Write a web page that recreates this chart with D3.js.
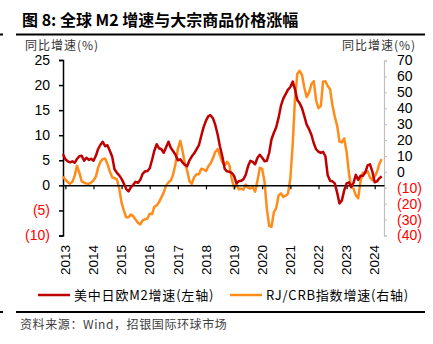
<!DOCTYPE html>
<html>
<head>
	<meta charset="utf-8" />
	<title>全球M2增速与大宗商品价格涨幅</title>
	<script src="https://d3js.org/d3.v7.min.js"></script>
	<style>
		body { margin: 0; background: #fff; }
		text { font-family: "Liberation Sans", Arial, sans-serif; }
		.cjk { font-family: "Noto Sans CJK SC", sans-serif; }
	</style>
</head>
<body>

<script>

// monthly, starting Dec 2012
var startMonth = new Date(2012, 11, 1);

var years = [2013, 2014, 2015, 2016, 2017, 2018, 2019, 2020, 2021, 2022, 2023, 2024];
var leftTicks = [-10, -5, 0, 5, 10, 15, 20, 25];
var rightTicks = [-40, -30, -20, -10, 0, 10, 20, 30, 40, 50, 60, 70];

// 美中日欧M2增速 (left axis, %)
var m2Growth = [
	6.2,
	5.2, 4.8, 4.6, 4.8, 4.5, 5.3, 5.8, 5.9, 4.9, 5.5, 5.1, 5.3,
	4.9, 5.9, 7.2, 8.1, 8.7, 7.8, 8.0, 6.9, 5.7, 3.2, 2.5, 2.0,
	1.3, 0.3, -0.7, -1.2, -0.4, 0.1, 0.7, 0.5, 1.1, 2.3, 2.8, 2.8,
	3.4, 5.1, 6.9, 8.2, 7.4, 7.2, 6.5, 7.6, 8.7, 7.5, 6.8, 6.1,
	5.0, 5.2, 4.6, 4.1, 3.8, 5.0, 5.8, 6.4, 7.2, 8.0, 9.9, 11.6,
	12.9, 13.8, 14.0, 13.4, 12.1, 10.2, 7.8, 5.8, 3.3, 2.8, 2.7, 2.5,
	1.9, 0.4, 0.8, 0.9, 1.2, 2.1, 3.8, 4.9, 4.7, 4.2, 5.5, 6.1,
	5.5, 4.8, 4.9, 6.5, 9.2, 10.5, 11.6, 13.5, 15.9, 17.3, 18.2, 19.1,
	19.6, 20.7, 19.2, 17.0, 16.4, 15.4, 13.8, 12.1, 11.2, 10.1, 8.4, 7.2,
	6.7, 6.5, 6.7, 5.8, 2.0, 0.9, 0.8, 0.4, -1.5, -3.6, -3.0, -1.0,
	0.4, 0.6, -0.3, 0.5, 2.1, 1.1, 1.9, 1.9, 2.6, 4.0, 4.2, 2.8,
	0.6, 0.8, 1.4, 1.8
];

// RJ/CRB指数增速 (right axis, %)
var crbGrowth = [
	-3.0,
	-4.9, -6.4, -7.4, -6.4, -2.5, 3.9, -0.5, -6.0, -6.8, -7.3, -7.5, -6.8,
	-5.3, -3.0, 2.5, 6.4, 8.0, 8.4, 5.0, 0.2, -3.4, -4.0, -4.7, -10.5,
	-19.5, -24.5, -28.5, -28.5, -26.9, -27.8, -30.0, -32.0, -33.0, -30.5, -29.8, -29.5,
	-26.3, -26.5, -22.0, -21.1, -19.0, -16.0, -13.0, -8.7, -6.6, -5.5, -1.5, 5.0,
	14.5, 19.5, 13.5, 5.5, 1.0, -6.0, -7.5, -3.2, -1.5, -1.5, 2.0, 1.5,
	0.5, 3.5, 5.2, 8.5, 12.5, 14.3, 10.5, 6.0, 4.2, 6.3, 4.2, -4.0,
	-10.3, -7.8, -11.0, -10.5, -11.2, -8.0, -10.0, -10.5, -9.5, -12.5, -5.5, 2.5,
	1.8, -6.4, -23.0, -34.0, -34.5, -25.3, -22.8, -14.8, -13.5, -15.8, -15.0, -13.7,
	-4.0, 18.0, 45.0, 61.5, 63.5, 61.0, 53.0, 47.0, 50.0, 55.0, 57.0, 45.0,
	40.0, 41.5, 56.7, 57.0, 54.0, 52.0, 42.0, 34.6, 29.0, 19.0, 18.5, 21.0,
	12.6, -1.0, -9.8, -10.5, -14.8, -16.5, -6.0, -0.5, -0.8, 0.5, -3.5, -5.3,
	-2.8, 0.0, 5.0, 8.0
];

var seriesNames = ["美中日欧M2增速(左轴)", "RJ/CRB指数增速(右轴)"];
var colors = ["#c00000", "#ff8c1a"];

var months = m2Growth.map(function(d, i) { return d3.timeMonth.offset(startMonth, i); });

var svg = d3.select("body").append("svg")
			.attr("width", 433)
			.attr("height", 344);

svg.append("rect").attr("width", 433).attr("height", 344).attr("fill", "#fff");

var x = d3.scaleTime()
		.domain([startMonth, new Date(2024, 4, 1)])
		.range([63, 384]);

var yL = d3.scaleLinear().domain([-10, 25]).range([235.5, 60]);
var yR = d3.scaleLinear().domain([-40, 70]).range([235.5, 60.5]);

function paren(d) { return d < 0 ? "(" + (-d) + ")" : d; }

// title
svg.append("text")
	.attr("class", "cjk")
	.attr("x", 22)
	.attr("y", 26)
	.attr("font-size", "16px")
	.attr("font-weight", "bold")
	.text("图 8: 全球 M2 增速与大宗商品价格涨幅");

svg.append("line").attr("x1", 16).attr("x2", 425).attr("y1", 34.5).attr("y2", 34.5)
	.attr("stroke", "#000").attr("stroke-width", 2);
svg.append("line").attr("x1", 0).attr("x2", 3).attr("y1", 34.5).attr("y2", 34.5)
	.attr("stroke", "#000").attr("stroke-width", 2);

// axis titles
svg.append("text").attr("class", "cjk").attr("x", 25).attr("y", 50)
	.attr("font-size", "12px").attr("letter-spacing", "1px").attr("fill", "#333").text("同比增速(%)");
svg.append("text").attr("class", "cjk").attr("x", 342).attr("y", 50)
	.attr("font-size", "12px").attr("letter-spacing", "1px").attr("fill", "#333").text("同比增速(%)");

// left axis
var gL = svg.append("g")
	.attr("transform", "translate(63,0)")
	.call(d3.axisLeft(yL).tickValues(leftTicks).tickSize(4).tickPadding(9).tickFormat(paren));
gL.select(".domain").attr("stroke", "#000").attr("stroke-width", 1.5);
gL.selectAll(".tick line").attr("stroke", "#000").attr("stroke-width", 1.5);
gL.selectAll(".tick text")
	.attr("font-size", "14px")
	.attr("font-family", "'Liberation Sans', Arial, sans-serif")
	.attr("fill", function(d) { return d < 0 ? "#ff0000" : "#000"; });

// right axis
var gR = svg.append("g")
	.attr("transform", "translate(384,0)")
	.call(d3.axisRight(yR).tickValues(rightTicks).tickSize(3).tickPadding(10).tickFormat(paren));
gR.select(".domain").attr("stroke", "#bfbfbf").attr("stroke-width", 1.2);
gR.selectAll(".tick line").attr("stroke", "#bfbfbf");
gR.selectAll(".tick text")
	.attr("font-size", "14px")
	.attr("font-family", "'Liberation Sans', Arial, sans-serif")
	.attr("fill", function(d) { return d < 0 ? "#ff0000" : "#000"; });

// series lines
var lineL = d3.line()
	.x(function(d, i) { return x(months[i]); })
	.y(function(d) { return yL(d); });
var lineR = d3.line()
	.x(function(d, i) { return x(months[i]); })
	.y(function(d) { return yR(d); });

svg.append("path")
	.datum(crbGrowth)
	.attr("d", lineR)
	.attr("fill", "none")
	.attr("stroke", colors[1])
	.attr("stroke-width", 2.5)
	.attr("stroke-linejoin", "round");

// x axis at left-axis zero
var gX = svg.append("g")
	.attr("transform", "translate(0," + yL(0) + ")")
	.call(d3.axisBottom(x)
		.tickValues(years.map(function(y) { return new Date(y, 0, 1); }))
		.tickSize(4)
		.tickSizeOuter(0)
		.tickFormat(""));
gX.select(".domain").attr("stroke", "#000").attr("stroke-width", 1.5);
gX.selectAll(".tick line").attr("stroke", "#000").attr("stroke-width", 1.2);

svg.append("path")
	.datum(m2Growth)
	.attr("d", lineL)
	.attr("fill", "none")
	.attr("stroke", colors[0])
	.attr("stroke-width", 2.5)
	.attr("stroke-linejoin", "round");

// year labels
svg.selectAll("text.year")
	.data(years)
	.enter()
	.append("text")
	.attr("class", "year")
	.attr("font-size", "13.5px")
	.attr("text-anchor", "end")
	.attr("dy", "0.35em")
	.attr("transform", function(d) { return "translate(" + x(new Date(d, 0, 1)) + ",245) rotate(-90)"; })
	.text(function(d) { return d; });

// legend
var legendX = [38, 230];
var legend = svg.selectAll("g.legend")
	.data(seriesNames)
	.enter()
	.append("g")
	.attr("class", "legend")
	.attr("transform", function(d, i) { return "translate(" + legendX[i] + ",295)"; });
legend.append("line")
	.attr("x1", 0).attr("x2", 32).attr("y1", 0).attr("y2", 0)
	.attr("stroke", function(d, i) { return colors[i]; })
	.attr("stroke-width", 2.5);
legend.append("text")
	.attr("class", "cjk")
	.attr("x", 36)
	.attr("y", 5)
	.attr("font-size", "13px")
	.attr("letter-spacing", "0.8px")
	.text(function(d) { return d; });

// bottom rule and source
svg.append("line").attr("x1", 16).attr("x2", 425).attr("y1", 312).attr("y2", 312)
	.attr("stroke", "#000").attr("stroke-width", 2);
svg.append("line").attr("x1", 0).attr("x2", 3).attr("y1", 312).attr("y2", 312)
	.attr("stroke", "#000").attr("stroke-width", 2);
svg.append("text").attr("class", "cjk").attr("x", 20).attr("y", 329)
	.attr("font-size", "12px").attr("letter-spacing", "0.6px").attr("fill", "#404040")
	.text("资料来源：Wind，招银国际环球市场");

</script>
</body>
</html>
